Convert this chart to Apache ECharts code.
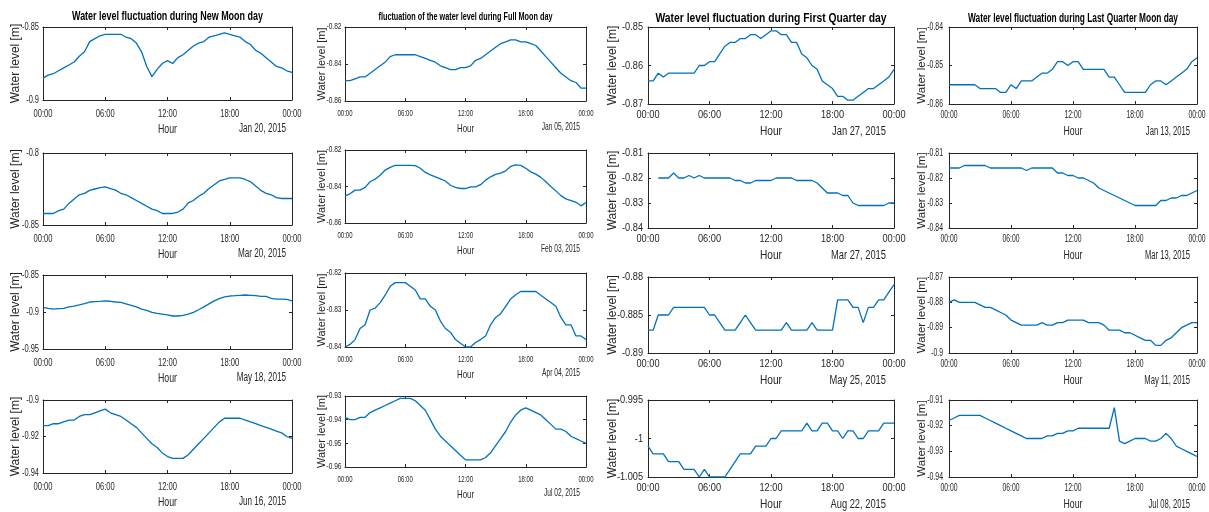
<!DOCTYPE html>
<html>
<head>
<meta charset="utf-8">
<script src="https://cdn.jsdelivr.net/npm/echarts@6/dist/echarts.min.js"></script>
<style>
html,body{margin:0;padding:0;background:#fff}
#c{width:1209px;height:512px}
</style>
</head>
<body>
<div id="c"></div>
<script>
// Half-hourly sampling times (hours from midnight)
const HOURS = [0,0.5,1,1.5,2,2.5,3,3.5,4,4.5,5,5.5,6,6.5,7,7.5,8,8.5,9,9.5,10,10.5,11,11.5,12,12.5,13,13.5,14,14.5,15,15.5,16,16.5,17,17.5,18,18.5,19,19.5,20,20.5,21,21.5,22,22.5,23,23.5,24];
const HOUR_TICKS = ['00:00','06:00','12:00','18:00','00:00'];

const COLUMN_TITLES = [
  'Water level fluctuation during New Moon day',
  'fluctuation of the water level during Full Moon day',
  'Water level fluctuation during First Quarter day',
  'Water level fluctuation during Last Quarter Moon day'
];

// Water level [m], one array per day
const newMoonJan20 = [-0.885,-0.883,-0.882,-0.880,-0.878,-0.876,-0.874,-0.870,-0.867,-0.860,-0.858,-0.856,-0.855,-0.855,-0.855,-0.855,-0.857,-0.858,-0.861,-0.867,-0.877,-0.884,-0.879,-0.875,-0.873,-0.875,-0.871,-0.869,-0.866,-0.863,-0.861,-0.860,-0.857,-0.856,-0.855,-0.854,-0.855,-0.856,-0.857,-0.860,-0.862,-0.866,-0.868,-0.871,-0.874,-0.877,-0.878,-0.880,-0.881];
const fullMoonJan05 = [-0.849,-0.849,-0.848,-0.847,-0.847,-0.845,-0.843,-0.841,-0.839,-0.836,-0.835,-0.835,-0.835,-0.835,-0.835,-0.836,-0.837,-0.838,-0.839,-0.841,-0.842,-0.843,-0.843,-0.842,-0.842,-0.841,-0.838,-0.837,-0.835,-0.833,-0.831,-0.829,-0.828,-0.827,-0.827,-0.828,-0.828,-0.829,-0.830,-0.833,-0.836,-0.839,-0.842,-0.845,-0.847,-0.849,-0.850,-0.853,-0.853];
const firstQuarterJan27 = [-0.864,-0.864,-0.862,-0.863,-0.862,-0.862,-0.862,-0.862,-0.862,-0.862,-0.860,-0.860,-0.859,-0.859,-0.857,-0.855,-0.854,-0.854,-0.853,-0.853,-0.852,-0.852,-0.853,-0.852,-0.851,-0.851,-0.852,-0.852,-0.854,-0.854,-0.857,-0.858,-0.860,-0.861,-0.864,-0.865,-0.866,-0.868,-0.868,-0.869,-0.869,-0.868,-0.867,-0.866,-0.866,-0.865,-0.864,-0.863,-0.861];
const lastQuarterJan13 = [-0.855,-0.855,-0.855,-0.855,-0.855,-0.855,-0.856,-0.856,-0.856,-0.856,-0.857,-0.857,-0.855,-0.856,-0.854,-0.854,-0.854,-0.853,-0.852,-0.852,-0.851,-0.849,-0.849,-0.850,-0.849,-0.849,-0.851,-0.851,-0.851,-0.851,-0.851,-0.853,-0.853,-0.855,-0.857,-0.857,-0.857,-0.857,-0.857,-0.855,-0.854,-0.854,-0.855,-0.854,-0.853,-0.852,-0.851,-0.849,-0.848];

const newMoonMar20 = [-0.842,-0.842,-0.842,-0.840,-0.839,-0.835,-0.832,-0.829,-0.828,-0.826,-0.825,-0.824,-0.8235,-0.8247,-0.8258,-0.828,-0.829,-0.831,-0.833,-0.835,-0.837,-0.839,-0.840,-0.842,-0.842,-0.842,-0.841,-0.839,-0.8346,-0.833,-0.830,-0.828,-0.8247,-0.822,-0.8194,-0.8184,-0.8173,-0.8173,-0.8173,-0.8184,-0.820,-0.823,-0.826,-0.828,-0.829,-0.831,-0.8316,-0.8316,-0.8316];
const fullMoonFeb03 = [-0.8451,-0.844,-0.842,-0.842,-0.8405,-0.8374,-0.836,-0.8338,-0.831,-0.8295,-0.8284,-0.8284,-0.8284,-0.8284,-0.8286,-0.830,-0.8323,-0.8336,-0.8347,-0.8358,-0.837,-0.8393,-0.8405,-0.8411,-0.8411,-0.8402,-0.8402,-0.839,-0.8365,-0.8347,-0.8334,-0.8327,-0.8314,-0.829,-0.8282,-0.8284,-0.830,-0.832,-0.8332,-0.835,-0.8374,-0.840,-0.8424,-0.845,-0.8468,-0.8477,-0.8486,-0.8506,-0.8488];
const firstQuarterMar27 = [null,null,-0.820,-0.820,-0.820,-0.818,-0.820,-0.820,-0.819,-0.820,-0.819,-0.820,-0.820,-0.820,-0.820,-0.820,-0.820,-0.821,-0.821,-0.822,-0.822,-0.821,-0.821,-0.821,-0.821,-0.820,-0.820,-0.820,-0.820,-0.821,-0.821,-0.821,-0.821,-0.822,-0.824,-0.826,-0.826,-0.826,-0.827,-0.827,-0.830,-0.831,-0.831,-0.831,-0.831,-0.831,-0.831,-0.830,-0.830];
const lastQuarterMar13 = [-0.816,-0.816,-0.816,-0.815,-0.815,-0.815,-0.815,-0.815,-0.816,-0.816,-0.816,-0.816,-0.816,-0.816,-0.816,-0.817,-0.816,-0.816,-0.816,-0.816,-0.816,-0.818,-0.818,-0.819,-0.819,-0.820,-0.820,-0.821,-0.822,-0.824,-0.825,-0.826,-0.827,-0.828,-0.829,-0.830,-0.831,-0.831,-0.831,-0.831,-0.831,-0.829,-0.829,-0.828,-0.828,-0.827,-0.827,-0.826,-0.825];

const newMoonMay18 = [-0.8937,-0.895,-0.896,-0.8955,-0.895,-0.893,-0.892,-0.8905,-0.8887,-0.8865,-0.886,-0.8856,-0.885,-0.8855,-0.8865,-0.887,-0.889,-0.891,-0.893,-0.896,-0.8977,-0.9005,-0.902,-0.903,-0.904,-0.9054,-0.9054,-0.9045,-0.903,-0.9005,-0.897,-0.893,-0.889,-0.885,-0.882,-0.8797,-0.8784,-0.878,-0.8775,-0.877,-0.8775,-0.878,-0.879,-0.879,-0.8816,-0.8825,-0.8825,-0.883,-0.885];
const fullMoonApr04 = [-0.840,-0.8393,-0.838,-0.835,-0.834,-0.830,-0.8295,-0.828,-0.826,-0.8236,-0.8226,-0.8226,-0.8226,-0.8236,-0.8246,-0.827,-0.827,-0.829,-0.830,-0.833,-0.835,-0.836,-0.838,-0.839,-0.840,-0.840,-0.8388,-0.838,-0.837,-0.834,-0.832,-0.831,-0.829,-0.827,-0.8259,-0.825,-0.825,-0.825,-0.825,-0.826,-0.827,-0.828,-0.829,-0.832,-0.834,-0.834,-0.837,-0.837,-0.838];
const firstQuarterMay25 = [-0.887,-0.887,-0.885,-0.885,-0.885,-0.884,-0.884,-0.884,-0.884,-0.884,-0.884,-0.884,-0.885,-0.885,-0.886,-0.887,-0.887,-0.887,-0.886,-0.885,-0.886,-0.887,-0.887,-0.887,-0.887,-0.887,-0.887,-0.886,-0.887,-0.887,-0.887,-0.887,-0.886,-0.887,-0.887,-0.887,-0.887,-0.883,-0.883,-0.883,-0.884,-0.884,-0.886,-0.884,-0.884,-0.883,-0.883,-0.882,-0.881];
const lastQuarterMay11 = [-0.880,-0.879,-0.880,-0.880,-0.880,-0.880,-0.881,-0.882,-0.882,-0.883,-0.884,-0.885,-0.887,-0.888,-0.889,-0.889,-0.889,-0.889,-0.888,-0.889,-0.889,-0.888,-0.888,-0.887,-0.887,-0.887,-0.887,-0.888,-0.888,-0.888,-0.889,-0.891,-0.891,-0.891,-0.892,-0.892,-0.893,-0.894,-0.895,-0.895,-0.897,-0.897,-0.895,-0.894,-0.892,-0.890,-0.889,-0.888,-0.888];

const newMoonJun16 = [-0.914,-0.914,-0.913,-0.913,-0.912,-0.911,-0.911,-0.909,-0.908,-0.908,-0.907,-0.906,-0.905,-0.907,-0.908,-0.909,-0.911,-0.913,-0.915,-0.918,-0.921,-0.924,-0.926,-0.929,-0.931,-0.932,-0.932,-0.932,-0.930,-0.927,-0.924,-0.921,-0.918,-0.915,-0.912,-0.910,-0.910,-0.910,-0.910,-0.911,-0.912,-0.913,-0.914,-0.915,-0.916,-0.917,-0.918,-0.920,-0.921];
const fullMoonJul02 = [-0.939,-0.940,-0.940,-0.939,-0.939,-0.937,-0.936,-0.935,-0.934,-0.933,-0.932,-0.931,-0.931,-0.931,-0.932,-0.934,-0.936,-0.940,-0.944,-0.947,-0.949,-0.951,-0.953,-0.955,-0.957,-0.957,-0.957,-0.957,-0.956,-0.954,-0.951,-0.948,-0.945,-0.941,-0.938,-0.936,-0.935,-0.936,-0.937,-0.938,-0.940,-0.942,-0.944,-0.944,-0.945,-0.947,-0.948,-0.949,-0.950];
const firstQuarterAug22 = [-1.001,-1.002,-1.002,-1.002,-1.003,-1.003,-1.003,-1.004,-1.004,-1.004,-1.005,-1.004,-1.005,-1.005,-1.005,-1.005,-1.004,-1.003,-1.002,-1.002,-1.002,-1.001,-1.001,-1.001,-1.000,-1.000,-0.999,-0.999,-0.999,-0.999,-0.999,-0.998,-0.999,-0.999,-0.998,-0.998,-0.999,-0.999,-1.000,-0.999,-0.999,-1.000,-1.000,-0.999,-0.999,-0.999,-0.998,-0.998,-0.998];
const lastQuarterJul08 = [-0.918,-0.917,-0.916,-0.916,-0.916,-0.916,-0.916,-0.917,-0.918,-0.919,-0.920,-0.921,-0.922,-0.923,-0.924,-0.925,-0.925,-0.925,-0.925,-0.924,-0.924,-0.923,-0.923,-0.922,-0.922,-0.921,-0.921,-0.921,-0.921,-0.921,-0.921,-0.921,-0.913,-0.926,-0.927,-0.926,-0.925,-0.925,-0.925,-0.926,-0.926,-0.925,-0.923,-0.925,-0.928,-0.929,-0.930,-0.931,-0.932];

// Panels in reading order (row by row), with the date and y-axis range of each
const PANEL_SERIES = [
  newMoonJan20, fullMoonJan05, firstQuarterJan27, lastQuarterJan13,
  newMoonMar20, fullMoonFeb03, firstQuarterMar27, lastQuarterMar13,
  newMoonMay18, fullMoonApr04, firstQuarterMay25, lastQuarterMay11,
  newMoonJun16, fullMoonJul02, firstQuarterAug22, lastQuarterJul08
];
const PANEL_DATES = [
  'Jan 20, 2015','Jan 05, 2015','Jan 27, 2015','Jan 13, 2015',
  'Mar 20, 2015','Feb 03, 2015','Mar 27, 2015','Mar 13, 2015',
  'May 18, 2015','Apr 04, 2015','May 25, 2015','May 11, 2015',
  'Jun 16, 2015','Jul 02, 2015','Aug 22, 2015','Jul 08, 2015'
];
const Y_MIN  = [-0.9,-0.86,-0.87,-0.86, -0.85,-0.86,-0.84,-0.84, -0.95,-0.84,-0.89,-0.9, -0.94,-0.96,-1.005,-0.94];
const Y_MAX  = [-0.85,-0.82,-0.85,-0.84, -0.8,-0.82,-0.81,-0.81, -0.85,-0.82,-0.88,-0.87, -0.9,-0.93,-0.995,-0.91];
const Y_STEP = [0.05,0.02,0.01,0.01, 0.05,0.02,0.01,0.01, 0.05,0.01,0.005,0.01, 0.02,0.01,0.005,0.01];

// ---- layout & styling ----
const SANS = "'Liberation Sans',Arial,sans-serif";
const TXT = '#262626';
const AXC = '#262626';
const LINE = '#0072BD';

const COL_X = [[43,292],[345,586],[648,894],[949,1197]];
const ROW_Y = [
  [[27,100],[153,225],[275,349],[400,473]],
  [[27,101],[150,223],[273,347],[396,467]],
  [[27,104],[153,228],[277,353],[400,477]],
  [[27,104],[153,228],[277,353],[400,477]]
];
// Each column has its own (horizontally condensed) text widths
const COL_STYLE = [
  {tick:10.5, xTickW:19,   yTickW:17,   xLabDy:14,   yLabGap:4,   yName:12,   yGap:21, titleSize:12, titleW:191, titleY:17, hourSize:12, hourW:19, hourDy:30, dateSize:12, dateW:48, dateDx:-6, dateDy:29},
  {tick:9,    xTickW:15,   yTickW:15,   xLabDy:12.5, yLabGap:3.5, yName:11,   yGap:18, titleSize:11, titleW:174, titleY:17, hourSize:11, hourW:17, hourDy:28, dateSize:11, dateW:39, dateDx:-6, dateDy:26},
  {tick:11.5, xTickW:23,   yTickW:21,   xLabDy:11,   yLabGap:5,   yName:12,   yGap:29, titleSize:13, titleW:231, titleY:18, hourSize:12, hourW:22, hourDy:28, dateSize:12, dateW:55, dateDx:-8, dateDy:28},
  {tick:10,   xTickW:17,   yTickW:15.7, xLabDy:11,   yLabGap:6,   yName:11.5, yGap:21, titleSize:12, titleW:210, titleY:19, hourSize:12, hourW:19, hourDy:28, dateSize:12, dateW:45, dateDx:-7, dateDy:28}
];

const measureCtx = document.createElement('canvas').getContext('2d');
function textWidth(text, font) { measureCtx.font = font; return measureCtx.measureText(text).width; }
function tickText(v) { return String(parseFloat(v.toFixed(4))); }

const grid = [], xAxis = [], yAxis = [], series = [];

PANEL_SERIES.forEach((values, i) => {
  const col = i % 4, row = Math.floor(i / 4);
  const [l, r] = COL_X[col];
  const [t, b] = ROW_Y[col][row];
  const st = COL_STYLE[col];
  grid.push({left: l, top: t, width: r - l, height: b - t});

  const axisLine = {show: true, onZero: false, lineStyle: {color: AXC, width: 1}};
  const axisTick = {show: true, inside: true, length: 3, lineStyle: {color: AXC, width: 1}};
  const base = {gridIndex: i, type: 'value', axisLine, axisTick, splitLine: {show: false}, axisLabel: {show: false}};

  xAxis.push(Object.assign({min: 0, max: 24, interval: 6, position: 'bottom'}, base));
  xAxis.push(Object.assign({min: 0, max: 24, interval: 6, position: 'top'}, base));
  yAxis.push(Object.assign({min: Y_MIN[i], max: Y_MAX[i], interval: Y_STEP[i], position: 'left',
    name: 'Water level [m]', nameLocation: 'middle', nameGap: st.yGap, nameMoveOverlap: false,
    nameTextStyle: {fontFamily: SANS, fontSize: st.yName, color: TXT}}, base));
  yAxis.push(Object.assign({min: Y_MIN[i], max: Y_MAX[i], interval: Y_STEP[i], position: 'right'}, base));

  series.push({
    type: 'line', xAxisIndex: 2 * i, yAxisIndex: 2 * i,
    data: HOURS.map((h, k) => [h, values[k]]),
    showSymbol: false, connectNulls: false,
    lineStyle: {color: LINE, width: 1.3}, itemStyle: {color: LINE}
  });
});

const chart = echarts.init(document.getElementById('c'), null, {renderer: 'canvas'});
chart.setOption({animation: false, backgroundColor: '#fff', grid, xAxis, yAxis, series});

// Tick labels, captions and titles as condensed text, placed through the axes' scales
const graphic = [];
PANEL_SERIES.forEach((values, i) => {
  const col = i % 4, row = Math.floor(i / 4);
  const [l, r] = COL_X[col];
  const [t, b] = ROW_Y[col][row];
  const st = COL_STYLE[col];
  const tickFont = `${st.tick}px ${SANS}`;
  const sxX = st.xTickW / textWidth('00:00', tickFont);
  const sxY = st.yTickW / textWidth('-0.85', tickFont);

  HOUR_TICKS.forEach((label, k) => {
    const px = chart.convertToPixel({xAxisIndex: 2 * i}, k * 6);
    graphic.push({type: 'text', x: px, y: b + st.xLabDy, scaleX: sxX, silent: true,
      style: {text: label, font: tickFont, fill: TXT, textAlign: 'center', textVerticalAlign: 'middle'}});
  });
  const nTicks = Math.round((Y_MAX[i] - Y_MIN[i]) / Y_STEP[i]);
  for (let k = 0; k <= nTicks; k++) {
    const v = Y_MIN[i] + k * Y_STEP[i];
    const py = chart.convertToPixel({yAxisIndex: 2 * i}, v);
    graphic.push({type: 'text', x: l - st.yLabGap, y: py, scaleX: sxY, silent: true,
      style: {text: tickText(v), font: tickFont, fill: TXT, textAlign: 'right', textVerticalAlign: 'middle'}});
  }

  const hourFont = `${st.hourSize}px ${SANS}`;
  graphic.push({type: 'text', x: (l + r) / 2, y: b + st.hourDy, silent: true,
    scaleX: st.hourW / textWidth('Hour', hourFont),
    style: {text: 'Hour', font: hourFont, fill: TXT, textAlign: 'center', textVerticalAlign: 'middle'}});
  const dateFont = `${st.dateSize}px ${SANS}`;
  graphic.push({type: 'text', x: r + st.dateDx, y: b + st.dateDy, silent: true,
    scaleX: st.dateW / textWidth(PANEL_DATES[4 + col], dateFont),
    style: {text: PANEL_DATES[i], font: dateFont, fill: TXT, textAlign: 'right', textVerticalAlign: 'middle'}});

  if (row === 0) {
    const titleFont = `bold ${st.titleSize}px ${SANS}`;
    graphic.push({type: 'text', x: (l + r) / 2, y: st.titleY, silent: true,
      scaleX: st.titleW / textWidth(COLUMN_TITLES[col], titleFont),
      style: {text: COLUMN_TITLES[col], font: titleFont, fill: '#000', textAlign: 'center', textVerticalAlign: 'middle'}});
  }
});
chart.setOption({graphic});
</script>
</body>
</html>
